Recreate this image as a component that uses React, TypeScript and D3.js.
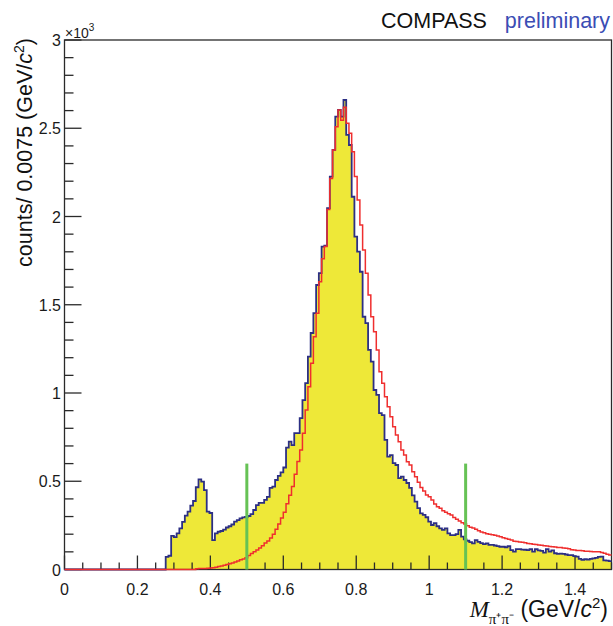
import React from "react";
import * as d3 from "d3";

// Histogram binning: 200 bins of 0.0075 GeV/c^2 from 0 to 1.5
const BIN_WIDTH = 0.0075;
const N_BINS = 200;

// Data (yellow-filled, navy outline) histogram: counts per bin starting at bin 37
const dataStartBin = 37;
const dataCounts = [
  72, 78, 190, 183, 205, 233, 270, 305, 328, 362,
  388, 466, 511, 498, 450, 328, 320, 167, 205, 214,
  218, 226, 238, 245, 255, 271, 280, 290, 295, 298,
  303, 314, 337, 365, 377, 378, 394, 412, 462, 469,
  507, 530, 550, 578, 690, 724, 705, 773, 773, 858,
  960, 1056, 1206, 1340, 1453, 1612, 1679, 1829, 1835, 2048,
  2226, 2377, 2566, 2604, 2566, 2660, 2462, 2405, 2112, 1886,
  1801, 1687, 1432, 1396, 1244, 1178, 1017, 989, 886, 875,
  734, 639, 648, 603, 592, 518, 526, 507, 490, 462,
  420, 384, 348, 318, 309, 296, 271, 252, 263, 245,
  233, 224, 233, 205, 195, 195, 200, 224, 186, 171,
  163, 155, 148, 167, 156, 150, 144, 148, 139, 139,
  136, 132, 129, 129, 126, 133, 110, 101, 115, 115,
  113, 112, 110, 116, 101, 115, 108, 106, 96, 116,
  101, 108, 92, 88, 90, 88, 85, 82, 82, 76,
  73, 60, 55, 58, 56, 60, 63, 66, 72, 73,
  52, 50, 48,
];

// Red outline histogram: counts per bin starting at bin 48
const redStartBin = 48;
const redCounts = [
  4, 5, 5, 6, 7, 8, 10, 13, 17, 20,
  24, 28, 32, 37, 42, 48, 55, 60, 67, 80,
  90, 100, 110, 122, 135, 150, 162, 178, 200, 228,
  258, 292, 325, 372, 420, 470, 540, 612, 677, 772,
  904, 1036, 1168, 1319, 1452, 1631, 1760, 1830, 2040, 2216,
  2377, 2509, 2603, 2545, 2619, 2528, 2471, 2367, 2226, 2093,
  1952, 1810, 1678, 1555, 1432, 1347, 1244, 1121, 1055, 979,
  922, 866, 809, 762, 724, 677, 649, 611, 592, 554,
  526, 495, 465, 445, 422, 412, 394, 371, 356, 347,
  333, 325, 316, 309, 295, 285, 275, 265, 258, 248,
  240, 235, 228, 220, 212, 208, 202, 200, 197, 194,
  190, 186, 180, 176, 171, 167, 160, 158, 156, 154,
  152, 148, 146, 143, 141, 139, 138, 135, 133, 131,
  129, 128, 125, 124, 122, 120, 118, 112, 110, 108,
  107, 106, 104, 103, 102, 101, 101, 100, 96, 92,
  86, 82,
];

// Vertical cut markers (mass, height in counts)
const cutMasses = [0.5, 1.1];
const cutHeight = 600;

// Axis ticks
const xMajorTicks = [0, 0.2, 0.4, 0.6, 0.8, 1.0, 1.2, 1.4];
const xTickLabels = ["0", "0.2", "0.4", "0.6", "0.8", "1", "1.2", "1.4"];
const yMajorTicks = [0, 500, 1000, 1500, 2000, 2500, 3000];
const yTickLabels = ["0", "0.5", "1", "1.5", "2", "2.5", "3"];

const W = 613;
const H = 626;
const LEFT = 64.5;
const RIGHT = 611.5;
const TOP = 40;
const BOTTOM = 569.5;

function fullBins(start: number, counts: number[]): number[] {
  const arr = new Array(N_BINS).fill(0);
  counts.forEach((c, i) => {
    arr[start + i] = c;
  });
  return arr;
}

export default function App() {
  const x = d3.scaleLinear().domain([0, 1.5]).range([LEFT, RIGHT]);
  const y = d3.scaleLinear().domain([0, 3000]).range([BOTTOM, TOP]);

  const dataBins = fullBins(dataStartBin, dataCounts);
  const redBins = fullBins(redStartBin, redCounts);

  type P = { m: number; v: number };
  const toPts = (bins: number[]): P[] => {
    const pts: P[] = bins.map((v, i) => ({ m: i * BIN_WIDTH, v }));
    pts.push({ m: N_BINS * BIN_WIDTH, v: bins[bins.length - 1] });
    return pts;
  };

  const dataPts = toPts(dataBins);
  const redPts = toPts(redBins);

  const area = d3
    .area<P>()
    .x((d) => x(d.m))
    .y0(y(0))
    .y1((d) => y(d.v))
    .curve(d3.curveStepAfter);
  const line = d3
    .line<P>()
    .x((d) => x(d.m))
    .y((d) => y(d.v))
    .curve(d3.curveStepAfter);

  const xMinor = d3.range(0, 1.5001, 0.05).filter(
    (t) => !xMajorTicks.some((m) => Math.abs(m - t) < 1e-6)
  );
  const yMinor = d3.range(0, 3000.1, 100).filter((t) => t % 500 !== 0);

  const font = "'Liberation Sans', Arial, Helvetica, sans-serif";
  const serif = "'Liberation Serif', 'Times New Roman', serif";
  const axisColor = "#2a2a2a";

  return (
    <svg
      width={W}
      height={H}
      style={{ position: "absolute", left: 0, top: 0, background: "#fff" }}
    >
      <rect x={0} y={0} width={W} height={H} fill="#fff" />
      {/* data fill */}
      <path d={area(dataPts) || ""} fill="#eee838" stroke="none" />

      {/* ticks */}
      {xMajorTicks.map((t) => (
        <line key={"xM" + t} x1={x(t)} x2={x(t)} y1={y(0)} y2={y(0) - 14} stroke={axisColor} strokeWidth={1.3} />
      ))}
      {xMinor.map((t) => (
        <line key={"xm" + t} x1={x(t)} x2={x(t)} y1={y(0)} y2={y(0) - 7} stroke={axisColor} strokeWidth={1.3} />
      ))}
      {yMajorTicks.map((t) => (
        <line key={"yM" + t} x1={LEFT} x2={LEFT + 17} y1={y(t)} y2={y(t)} stroke={axisColor} strokeWidth={1.3} />
      ))}
      {yMinor.map((t) => (
        <line key={"ym" + t} x1={LEFT} x2={LEFT + 9} y1={y(t)} y2={y(t)} stroke={axisColor} strokeWidth={1.3} />
      ))}

      {/* frame */}
      <rect x={LEFT} y={TOP} width={RIGHT - LEFT} height={BOTTOM - TOP} fill="none" stroke={axisColor} strokeWidth={1.3} />

      {/* histograms outlines */}
      <path d={line(dataPts) || ""} fill="none" stroke="#2c2f84" strokeWidth={1.8} />
      <path d={line(redPts) || ""} fill="none" stroke="#ef2e2e" strokeWidth={1.5} />

      {/* cut lines */}
      {cutMasses.map((m) => (
        <line key={"c" + m} x1={x(m)} x2={x(m)} y1={y(0)} y2={y(cutHeight)} stroke="#66c255" strokeWidth={3} />
      ))}

      {/* tick labels */}
      {xMajorTicks.map((t, i) => (
        <text key={"xl" + t} x={x(t)} y={595} textAnchor="middle" fontFamily={font} fontSize={16} fill="#1a1a1a">
          {xTickLabels[i]}
        </text>
      ))}
      {yMajorTicks.map((t, i) => (
        <text key={"yl" + t} x={61} y={y(t) + 6} textAnchor="end" fontFamily={font} fontSize={16} fill="#1a1a1a">
          {yTickLabels[i]}
        </text>
      ))}
      <text x={65} y={38} fontFamily={font} fontSize={14} fill="#1a1a1a">
        ×10
        <tspan fontSize={10} dy={-7}>3</tspan>
      </text>

      {/* y title */}
      <text
        transform={`translate(32, ${TOP - 2}) rotate(-90)`}
        textAnchor="end"
        fontFamily={font}
        fontSize={21.5}
        fill="#111"
      >
        counts/ 0.0075 (GeV/<tspan fontStyle="italic">c</tspan>
        <tspan fontSize={14} dy={-8}>2</tspan>
        <tspan dy={8}>)</tspan>
      </text>

      {/* x title */}
      <text x={608} y={617} textAnchor="end" fontFamily={font} fontSize={23} fill="#111">
        <tspan fontFamily={serif} fontStyle="italic">M</tspan>
        <tspan fontFamily={serif} fontSize={15} dy={7}>π⁺π⁻</tspan>
        <tspan dy={-7}> (GeV/</tspan>
        <tspan fontStyle="italic">c</tspan>
        <tspan fontSize={15} dy={-9}>2</tspan>
        <tspan dy={9}>)</tspan>
      </text>

      {/* header */}
      <text x={381} y={28} fontFamily={font} fontSize={21.5} fill="#111">COMPASS</text>
      <text x={610} y={28} textAnchor="end" fontFamily={font} fontSize={21.5} fill="#3b4db4">preliminary</text>
    </svg>
  );
}
